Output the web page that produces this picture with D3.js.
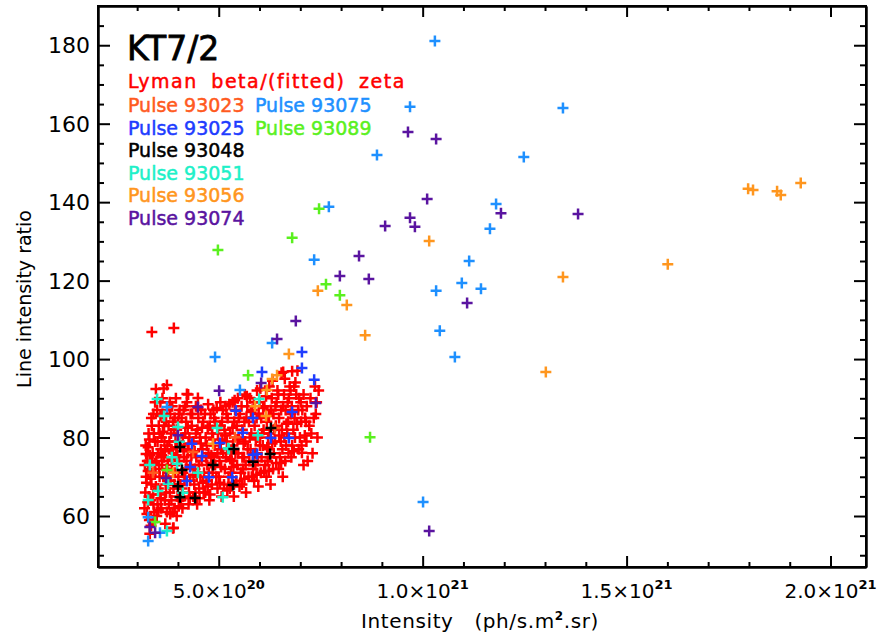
<!DOCTYPE html>
<html><head><meta charset="utf-8">
<script src="https://cdn.jsdelivr.net/npm/d3@7"></script>
<style>body{margin:0;background:#fff}svg{display:block}</style>
</head><body>
<svg id="c" width="877" height="641"></svg>
<script>
// ---------- DATA (x in units of 1e20 ph/s.m^2.sr, y = line intensity ratio) ----------
const xTicks = [5, 10, 15, 20];
const xTickMantissa = ["5.0×10", "1.0×10", "1.5×10", "2.0×10"];
const xTickExponent = ["20", "21", "21", "21"];
const yTicks = [60, 80, 100, 120, 140, 160, 180];
const yTickLabels = ["60", "80", "100", "120", "140", "160", "180"];

const legendTitle = "KT7/2";
const legendSubtitle = "Lyman beta/(fitted) zeta";
const legendCol1 = ["Pulse 93023", "Pulse 93025", "Pulse 93048", "Pulse 93051", "Pulse 93056", "Pulse 93074"];
const legendCol2 = ["Pulse 93075", "Pulse 93089"];

const redPoints = [
 [3.36,106.9],[3.90,107.9],[3.46,92.4],[3.73,93.4],[4.22,91.1],[4.49,90.1],[6.58,96.7],[6.80,96.9],[3.88,56.9],[7.04,76.1],[7.14,84.0],
 [3.18,62],[3.20,66],[3.22,70],[3.25,74],[3.21,78],[3.28,81],[3.30,59],[3.33,64],[3.35,68],[3.32,72],[3.38,76],[3.36,83],[3.40,86],[3.42,61],[3.44,79],[3.27,77.5],[3.23,68.5],[3.31,75.5],[3.39,65.5],[3.45,71],[3.34,57.5],[3.19,73],[3.26,63.5],
 [3.48,60],[3.50,63],[3.52,67],[3.55,70],[3.47,74],[3.58,77],[3.60,80],[3.53,83],[3.62,86],[3.57,89],[3.65,92.5],[3.68,64],[3.70,68],[3.72,72],[3.66,75],[3.74,78],[3.63,81.5],[3.71,84],[3.69,58],[3.49,87],[3.56,65.5],[3.61,73],[3.73,61],[3.50,79],[3.64,70],[3.59,62],
 [3.78,63],[3.80,66],[3.82,69],[3.85,73],[3.88,76],[3.79,79],[3.90,82],[3.92,85],[3.86,88],[3.95,90],[3.97,60],[3.99,65],[4.01,70],[4.03,74],[3.83,77],[3.94,79],[4.00,84],[3.87,61],[3.76,71],[3.91,68],[4.04,87],[3.81,86],[3.98,77.5],[3.89,57],[4.02,62.5],[3.77,83],
 [4.07,64],[4.10,67],[4.12,71],[4.15,75],[4.08,78],[4.18,81],[4.20,84],[4.14,87],[4.22,89],[4.25,91],[4.27,66],[4.30,69],[4.32,73],[4.24,77],[4.28,80],[4.34,83],[4.11,62],[4.19,72],[4.31,86],[4.16,69],[4.26,63],[4.09,85],
 [4.37,65],[4.40,68],[4.42,72],[4.45,75],[4.38,79],[4.48,82],[4.50,85],[4.44,88],[4.52,67],[4.55,70],[4.58,74],[4.60,77],[4.54,80],[4.62,84],[4.47,63],[4.57,87],[4.64,71],[4.41,76.5],[4.63,66],
 [4.67,66],[4.70,69],[4.72,73],[4.75,76],[4.68,80],[4.78,83],[4.80,86],[4.74,88.5],[4.83,68],[4.85,71],[4.88,75],[4.90,78],[4.84,81],[4.92,84],[4.77,64],[4.94,70],[4.71,78],[4.87,87],[4.81,73.5],
 [4.97,67],[5.00,70],[5.02,74],[5.05,77],[4.98,81],[5.08,84],[5.10,87],[5.04,89],[5.13,68],[5.15,72],[5.18,75],[5.20,79],[5.14,82],[5.22,85],[5.07,65],[5.24,70],[5.01,78.5],[5.17,88],
 [5.27,67],[5.30,71],[5.32,74],[5.35,78],[5.28,81],[5.38,84],[5.40,87],[5.34,89],[5.43,69],[5.45,73],[5.48,76],[5.50,80],[5.44,83],[5.52,86],[5.37,65],[5.54,71],[5.31,76.5],[5.47,90],
 [5.57,68],[5.60,72],[5.62,75],[5.65,79],[5.58,82],[5.68,85],[5.70,88],[5.64,91],[5.73,70],[5.75,74],[5.78,77],[5.80,81],[5.74,84],[5.82,87],[5.67,66],[5.84,72],[5.61,78.5],[5.77,90],
 [5.87,69],[5.90,73],[5.92,76],[5.95,80],[5.88,83],[5.98,86],[6.00,89],[5.94,92],[6.03,71],[6.05,75],[6.08,78],[6.10,82],[6.04,85],[6.12,88],[5.97,67.5],[6.14,73],[5.91,79.5],
 [6.17,70],[6.20,74],[6.22,77],[6.25,81],[6.18,84],[6.28,87],[6.30,90],[6.24,93],[6.33,72],[6.35,76],[6.38,79],[6.40,83],[6.34,86],[6.42,89],[6.27,68],[6.44,92],[6.21,80],
 [6.47,72],[6.50,75],[6.52,79],[6.55,82],[6.48,85],[6.58,88],[6.60,91],[6.54,96.5],[6.63,74],[6.65,78],[6.68,81],[6.70,84],[6.64,87],[6.72,90],[6.57,70],[6.74,93],
 [6.78,75],[6.80,78],[6.83,82],[6.86,85],[6.79,88],[6.90,91],[6.93,97],[6.88,94],[6.96,77],[6.99,80],[7.02,84],[7.05,87],[6.97,90],[7.08,73],
 [7.15,79],[7.22,83],[7.30,76],[7.38,86],[7.45,92],[7.40,89],[7.25,90],[7.18,74],[7.12,85],
 [3.24,60.5],[3.29,65],[3.33,69.5],[3.27,71.5],[3.36,74],[3.30,79.5],[3.41,81],[3.35,85],[3.44,89],[3.40,63],[3.46,67.5],[3.22,75.8],[3.38,58.5],[3.31,55.5],[3.43,73.5],
 [3.52,61.5],[3.58,64.5],[3.54,72],[3.60,75.5],[3.67,79],[3.55,81],[3.66,83],[3.74,87],[3.62,90],[3.71,66],[3.77,69],[3.57,85.5],[3.68,76.5],[3.51,76],[3.75,74],
 [3.81,60.5],[3.84,64],[3.89,67],[3.93,71],[3.86,74.5],[3.96,75.5],[3.83,81],[3.97,82],[4.02,86],[3.88,84],[4.06,68],[4.03,79],[3.92,62],[3.80,89],
 [4.13,65],[4.17,70],[4.21,74],[4.26,78.5],[4.12,80],[4.24,82.5],[4.35,86],[4.18,88],[4.29,64.5],[4.33,75.5],[4.38,70.5],[4.14,76.5],
 [4.43,66],[4.46,70],[4.51,73],[4.56,78.5],[4.44,81],[4.59,82.5],[4.66,86],[4.49,87.5],[4.61,68.5],[4.69,75],[4.53,64.5],
 [4.73,67.5],[4.76,71],[4.82,75.5],[4.86,79.5],[4.73,82.5],[4.89,85],[4.95,87.5],[4.91,73],[4.79,65.5],[4.97,76],
 [5.03,68.5],[5.06,72.5],[5.11,76],[5.16,80.5],[5.04,83],[5.19,86],[5.26,88.5],[5.21,66.5],[5.28,74.5],[5.09,79.5],
 [5.33,68.5],[5.36,72.5],[5.41,76],[5.46,79.5],[5.34,82.5],[5.49,85],[5.56,88],[5.51,67.5],[5.58,75],[5.39,89.5],
 [5.63,69.5],[5.66,73],[5.71,77],[5.76,80],[5.63,84],[5.79,86.5],[5.86,89],[5.81,70],[5.88,76],[5.69,90.5],
 [5.93,70.5],[5.96,74],[6.01,78],[6.06,81],[5.93,85],[6.09,87.5],[6.16,90.5],[6.11,71.5],[6.19,77.5],[6.02,92.5],
 [6.23,71.5],[6.26,75],[6.31,78.5],[6.36,82],[6.23,85.5],[6.39,88],[6.46,91],[6.41,73.5],[6.48,80.5],[6.32,94.5],
 [6.53,73.5],[6.56,77],[6.61,80],[6.66,83.5],[6.53,87],[6.69,89],[6.76,92],[6.71,76],[6.77,86],[6.62,95],
 [6.84,76.5],[6.87,80],[6.92,83.5],[6.95,87],[7.01,89],[7.08,91],[7.11,80.5],[7.16,88],[6.85,93],[7.03,78],
 [7.27,81],[7.33,85],[7.42,80],[7.36,93]
];
const pulse93023 = [[4.37,76.3],[3.39,71.0],[5.40,80.1],[6.38,82.4]];
const pulse93025 = [[7.04,101.8],[7.04,97.7],[6.06,96.7],[7.34,94.7],[5.42,86.8],[6.80,86.5],[5.84,85.0],[5.59,81.2],[6.28,79.9],[6.72,79.9],[5.03,78.6],[4.34,78.4],[4.59,75.3],[5.84,75.6],[5.94,75.8],[4.30,72.5],[4.76,69.9],[5.33,69.9],[4.22,68.9]];
const pulse93048 = [[6.28,82.4],[4.05,77.6],[5.37,77.1],[6.26,75.8],[5.84,73.8],[4.86,73.0],[4.10,71.7],[5.35,67.9],[4.00,67.6],[4.05,64.8],[4.42,64.6]];
const pulse93051 = [[3.49,89.8],[3.66,85.5],[5.99,89.8],[4.96,82.4],[4.00,82.7],[5.96,80.6],[4.03,78.9],[5.23,77.3],[3.85,75.0],[3.98,73.3],[4.49,71.0],[3.31,73.0],[3.76,68.2],[4.12,65.9],[5.10,64.8],[3.51,66.4],[3.27,64.1],[3.73,56.2],[5.25,77.1]];
const pulse93056 = [[6.72,101.3],[6.31,94.9],[6.43,95.9],[6.18,92.1],[5.89,88.0],[6.16,85.5],[4.86,78.4],[3.88,71.0],[7.43,117.4],[8.14,113.8],[8.59,106.1],[10.16,130.1],[13.02,96.7],[13.44,120.9],[16.01,124.2],[17.98,143.4],[18.10,143.1],[18.69,142.8],[18.78,141.8],[19.27,144.9]];
const pulse93074 = [[9.64,157.9],[10.33,156.1],[10.11,140.8],[11.92,137.2],[13.81,137.0],[9.08,133.9],[9.69,136.0],[9.81,133.7],[8.44,126.3],[7.97,121.2],[8.68,120.4],[11.09,114.3],[10.16,56.2],[6.89,109.7],[6.43,105.1],[6.04,93.9],[5.01,91.9],[4.49,87.8],[7.38,88.8],[4.00,80.6],[3.71,69.7],[3.31,57.2],[3.44,55.7]];
const pulse93075 = [[10.30,181.1],[9.69,164.3],[13.44,164.0],[8.88,152.0],[12.48,151.5],[7.70,138.8],[11.80,139.5],[11.65,133.2],[7.34,125.3],[11.14,125.0],[10.96,119.4],[11.43,117.9],[10.33,117.4],[10.42,107.2],[10.79,100.5],[10.01,63.6],[4.91,100.5],[6.31,104.1],[5.52,92.1],[3.73,87.8],[3.27,59.7],[3.56,55.7],[3.27,53.6]];
const pulse93089 = [[4.98,127.8],[6.80,130.9],[7.46,138.3],[7.63,119.1],[7.97,116.3],[8.71,80.1],[5.72,95.9],[3.73,71.7],[3.44,58.5]];

(function () {
// ---------- STYLE ----------
const colors = {
  red: "#ff0000", p93023: "#ff5a1e", p93025: "#1e3cff", p93048: "#000000", p93051: "#1ef0c8",
  p93056: "#ff961e", p93074: "#5a14a0", p93075: "#1e90ff", p93089: "#5af01e"
};
const layers = [
  [redPoints, colors.red], [pulse93023, colors.p93023], [pulse93056, colors.p93056], [pulse93051, colors.p93051],
  [pulse93048, colors.p93048], [pulse93025, colors.p93025], [pulse93075, colors.p93075], [pulse93089, colors.p93089],
  [pulse93074, colors.p93074]
];
const col1Colors = [colors.p93023, colors.p93025, colors.p93048, colors.p93051, colors.p93056, colors.p93074];
const col2Colors = [colors.p93075, colors.p93089];

const pL = 98, pR = 866, pT = 6, pB = 567;
const svg = d3.select("#c");
const x = d3.scaleLinear().domain([2.04, 20.87]).range([pL, pR]);
const y = d3.scaleLinear().domain([47, 190]).range([pB, pT]);
const font = "'DejaVu Sans', sans-serif";

const xMinor = d3.range(3, 21).filter(v => !xTicks.includes(v));
const yMinor = d3.range(50, 190, 5).filter(v => !yTicks.includes(v));

function styleAxis(g) {
  g.selectAll("path.domain").attr("stroke", "#000").attr("stroke-width", 2);
  g.selectAll(".tick line").attr("stroke", "#000").attr("stroke-width", 2);
  g.selectAll(".tick text").remove();
}
function addAxis(axisFn, pos, ticks, size, isX) {
  svg.append("g").attr("transform", isX ? `translate(0,${pos})` : `translate(${pos},0)`)
    .call(axisFn(isX ? x : y).tickValues(ticks).tickSizeInner(-size).tickSizeOuter(0).tickFormat(""))
    .call(styleAxis);
}
addAxis(d3.axisBottom, pB, xTicks, 11, true);
addAxis(d3.axisBottom, pB, xMinor, 5, true);
addAxis(d3.axisTop, pT, xTicks, 11, true);
addAxis(d3.axisTop, pT, xMinor, 5, true);
addAxis(d3.axisLeft, pL, yTicks, 12, false);
addAxis(d3.axisLeft, pL, yMinor, 6, false);
addAxis(d3.axisRight, pR, yTicks, 12, false);
addAxis(d3.axisRight, pR, yMinor, 6, false);

svg.append("rect").attr("x", pL).attr("y", pT).attr("width", pR - pL).attr("height", pB - pT)
  .attr("fill", "none").attr("stroke", "#000").attr("stroke-width", 2);

// y tick labels
svg.append("g").selectAll("text").data(yTicks).join("text")
  .attr("x", 90).attr("y", d => y(d) + 8).attr("text-anchor", "end")
  .attr("font-family", font).attr("font-size", 22).attr("fill", "#000")
  .text((d, i) => yTickLabels[i]);

// x tick labels with superscripts
const xl = svg.append("g").selectAll("text").data(xTicks).join("text")
  .attr("x", d => x(d)).attr("y", 598).attr("text-anchor", "middle")
  .attr("font-family", font).attr("font-size", 20).attr("fill", "#000");
xl.append("tspan").text((d, i) => xTickMantissa[i]);
xl.append("tspan").attr("dy", -9).attr("font-size", 13).attr("font-weight", "bold").text((d, i) => xTickExponent[i]);

// axis titles
const xt = svg.append("text").attr("x", 480).attr("y", 628).attr("text-anchor", "middle")
  .attr("font-family", font).attr("font-size", 20).attr("letter-spacing", 0.6)
  .attr("fill", "#000").style("white-space", "pre");
xt.append("tspan").text("Intensity   (ph/s.m");
xt.append("tspan").attr("dy", -8).attr("font-size", 12).attr("font-weight", "bold").text("2");
xt.append("tspan").attr("dy", 8).text(".sr)");

svg.append("text").attr("transform", "translate(31,299) rotate(-90)").attr("text-anchor", "middle")
  .attr("font-family", font).attr("font-size", 19).attr("fill", "#000").text("Line intensity ratio");

// points
const pg = svg.append("g").attr("fill", "none").attr("stroke-width", 2.5);
layers.forEach(([pts, c]) => {
  pg.append("g").attr("stroke", c).selectAll("path").data(pts).join("path")
    .attr("d", d => `M${x(d[0]) - 5.5},${y(d[1])}h11M${x(d[0])},${y(d[1]) - 5.5}v11`);
});

// legend
svg.append("text").attr("x", 127).attr("y", 60).attr("font-family", font).attr("font-size", 33)
  .attr("fill", "#000").attr("stroke", "#000").attr("stroke-width", 0.8).text(legendTitle);
svg.append("text").attr("x", 128).attr("y", 88).attr("font-family", font).attr("font-size", 19)
  .attr("letter-spacing", 1.5).attr("word-spacing", 6).attr("fill", colors.red)
  .attr("stroke", colors.red).attr("stroke-width", 0.5).text(legendSubtitle);
svg.append("g").selectAll("text").data(legendCol1).join("text")
  .attr("x", 128).attr("y", (d, i) => 112 + i * 22.6).attr("font-family", font).attr("font-size", 19)
  .attr("fill", (d, i) => col1Colors[i]).attr("stroke", (d, i) => col1Colors[i]).attr("stroke-width", 0.5)
  .text(d => d);
svg.append("g").selectAll("text").data(legendCol2).join("text")
  .attr("x", 255).attr("y", (d, i) => 112 + i * 22.6).attr("font-family", font).attr("font-size", 19)
  .attr("fill", (d, i) => col2Colors[i]).attr("stroke", (d, i) => col2Colors[i]).attr("stroke-width", 0.5)
  .text(d => d);
})();
</script>
</body></html>
